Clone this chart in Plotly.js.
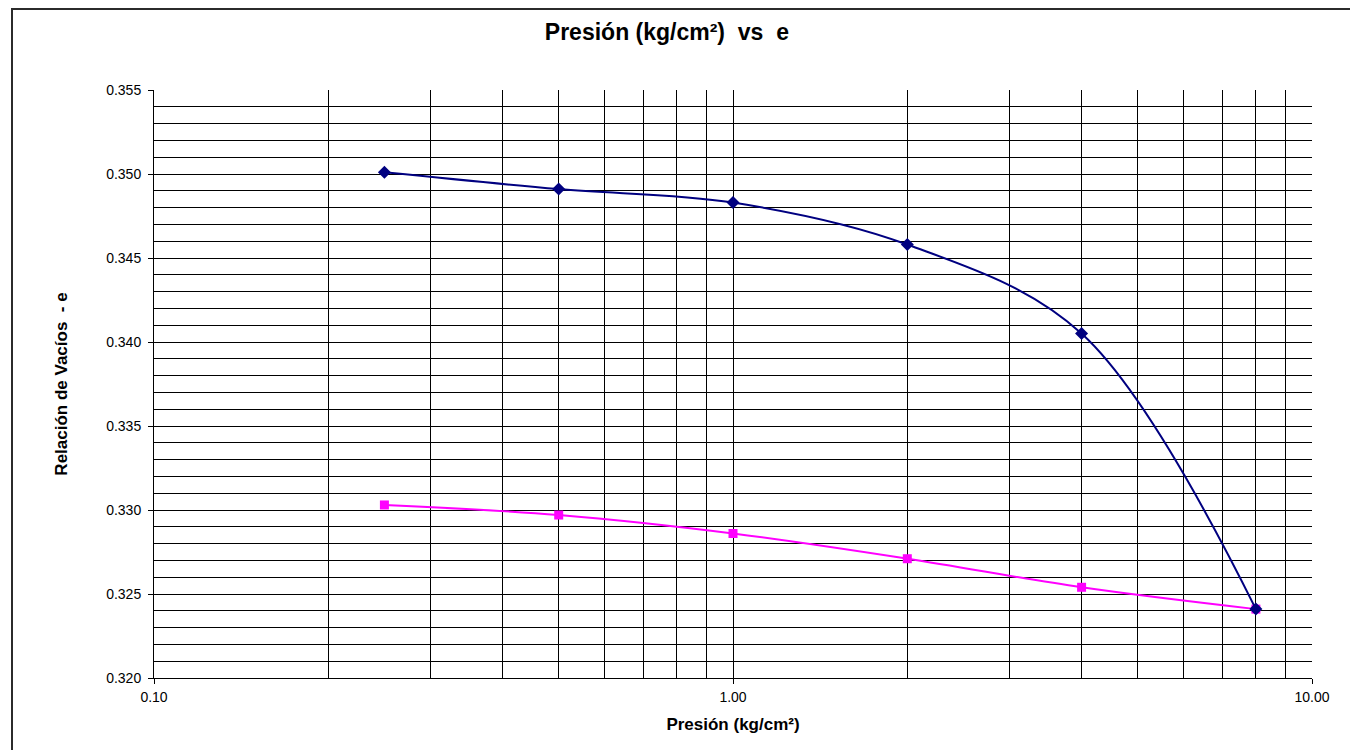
<!DOCTYPE html>
<html>
<head>
<meta charset="utf-8">
<script src="https://cdn.plot.ly/plotly-3.0.1.min.js"></script>
<style>
  html, body { margin: 0; padding: 0; overflow: hidden; background: #fff; }
  #frame { position: absolute; left: 11px; top: 8px; width: 1400px; height: 800px;
           border-left: 2px solid #2b2b2b; border-top: 2px solid #2b2b2b; box-sizing: border-box; }
  #chart { position: absolute; left: 0; top: 0; width: 1350px; height: 750px; }
</style>
</head>
<body>
<div id="frame"></div>
<div id="chart"></div>
<script>
// Presión aplicada (kg/cm²)
const presion = [0.25, 0.5, 1, 2, 4, 8];
// Relación de vacíos en carga y en descarga
const eCarga = [0.3501, 0.3491, 0.3483, 0.3458, 0.3405, 0.3241];
const eDescarga = [0.3303, 0.3297, 0.3286, 0.3271, 0.3254, 0.3241];

// Etiquetas del eje logarítmico
const xTickVals = [0.1, 1, 10];
const xTickText = ['0.10', '1.00', '10.00'];
const xMinorVals = [0.2, 0.3, 0.4, 0.5, 0.6, 0.7, 0.8, 0.9, 2, 3, 4, 5, 6, 7, 8, 9];

const font = 'Liberation Sans, Arial, sans-serif';

const traces = [
  {
    x: presion, y: eDescarga, type: 'scatter', mode: 'lines+markers',
    line: { color: '#FF00FF', width: 2, shape: 'spline' },
    marker: { symbol: 'square', size: 9, color: '#FF00FF' },
    name: 'Descarga'
  },
  {
    x: presion, y: eCarga, type: 'scatter', mode: 'lines+markers',
    line: { color: '#000080', width: 2, shape: 'spline' },
    marker: { symbol: 'diamond', size: 10, color: '#000080' },
    name: 'Carga'
  }
];

const layout = {
  width: 1350, height: 750,
  paper_bgcolor: 'rgba(0,0,0,0)', plot_bgcolor: '#fff',
  margin: { l: 154, r: 38, t: 90, b: 72 },
  showlegend: false,
  font: { family: font, color: '#000', size: 14 },
  title: {
    text: '<b>Presión (kg/cm²)  vs  e</b>',
    font: { family: font, size: 23, color: '#000' },
    x: 0.494, xref: 'container', xanchor: 'center',
    y: 0.958, yref: 'container', yanchor: 'middle'
  },
  xaxis: {
    type: 'log', range: [-1, 1],
    tickvals: xTickVals, ticktext: xTickText,
    ticks: 'outside', ticklen: 5, tickcolor: '#000',
    ticklabelstandoff: 1,
    showgrid: true, gridcolor: '#000', gridwidth: 1,
    minor: { tickvals: xMinorVals, showgrid: true, gridcolor: '#000', gridwidth: 1, ticks: '' },
    showline: true, linecolor: '#000', linewidth: 1,
    zeroline: false,
    tickfont: { family: font, size: 14, color: '#000' },
    title: { text: '<b>Presión (kg/cm²)</b>', font: { family: font, size: 17, color: '#000' }, standoff: 14 }
  },
  yaxis: {
    range: [0.320, 0.355], dtick: 0.005, tick0: 0.320, tickformat: '.3f',
    ticks: 'outside', ticklen: 5, tickcolor: '#000',
    ticklabelstandoff: 4,
    showgrid: true, gridcolor: '#000', gridwidth: 1,
    minor: { dtick: 0.001, showgrid: true, gridcolor: '#000', gridwidth: 1, ticks: '' },
    showline: true, linecolor: '#000', linewidth: 1,
    zeroline: false,
    tickfont: { family: font, size: 14, color: '#000' },
    title: { text: '<b>Relación de Vacíos  - e</b>', font: { family: font, size: 17, color: '#000' }, standoff: 34 }
  }
};

Plotly.newPlot('chart', traces, layout, { displayModeBar: false, staticPlot: true });
</script>
</body>
</html>
